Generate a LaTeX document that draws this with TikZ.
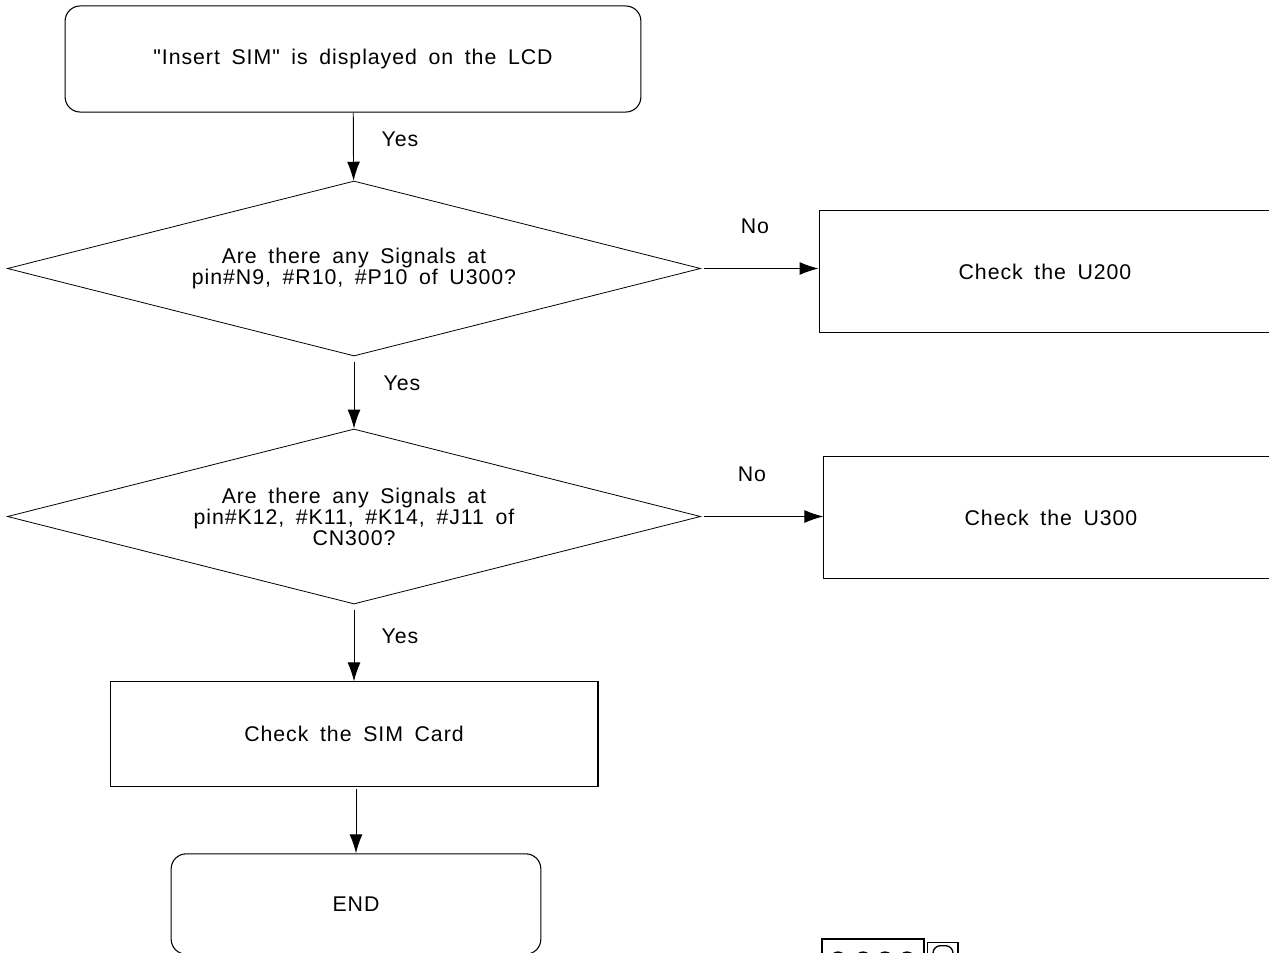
\documentclass[tikz,border=0pt]{standalone}
\usepackage{fontspec}
\newfontfamily\flowfont{Liberation Sans}[LetterSpace=4.4,WordSpace=1.7]
\usetikzlibrary{arrows.meta,shapes.geometric}
\tikzset{
  every node/.style={font=\flowfont\fontsize{16}{15.7}\selectfont},
  flow/.style={-{Latex[length=0.5cm,width=0.34cm]},line width=0.7pt},
  ask/.style={draw, diamond, aspect=3.95, inner sep=0pt, minimum width=18.3cm, minimum height=4.62cm, align=center},
  term/.style={draw, rectangle, rounded corners=0.4cm},
  pin/.style={draw, circle, line width=1pt, inner sep=0pt, minimum size=0.42cm},
}
\begin{document}
\begin{tikzpicture}[x=0.0264cm,y=-0.0264cm,line width=0.8pt]
\useasboundingbox (0,0) rectangle (1269,952);
\node[term, minimum width=15.2cm, minimum height=2.8cm] (start) at (353,59) {\symbol{34}Insert SIM\symbol{34} is displayed on the LCD};
\node[ask, line width=0.6pt] (sig1) at (354,268.5) {Are there any Signals at\\pin\#N9, \#R10, \#P10 of U300?};
\node[ask, line width=0.6pt] (sig2) at (354,516.5) {Are there any Signals at\\pin\#K12, \#K11, \#K14, \#J11 of\\CN300?};
\node[draw, rectangle, minimum width=11.93cm, minimum height=3.2cm] (u200) at (1045,271.5) {Check the U200};
\node[draw, rectangle, minimum width=11.99cm, minimum height=3.2cm] (u300) at (1051,517.5) {Check the U300};
\node[draw, rectangle, minimum width=12.88cm, minimum height=2.75cm] (sim) at (354,734) {Check the SIM Card};
\node[term, minimum width=9.76cm, minimum height=2.65cm] (finish) at (356,904) {END};

\draw[flow] (start) -- (sig1);
\draw[flow, shorten <=4pt] (sig1) -- (sig2);
\draw[flow, shorten <=4pt] (sig2) -- (sim);
\draw[flow, shorten <=2pt] (sim.south -| finish.north) -- (finish.north);
\draw[flow, shorten <=2pt] (sig1.east) -- (sig1.east -| u200.west);
\draw[flow, shorten <=2pt] (sig2.east) -- (sig2.east -| u300.west);

\node (yes1) at (400,139) {Yes};
\node (yes2) at (402,383) {Yes};
\node (yes3) at (400,636) {Yes};
\node (no1) at (755,226) {No};
\node (no2) at (752,474) {No};

\node[draw, line width=1.5pt, minimum width=2.7cm, minimum height=1cm, inner sep=0pt, anchor=north west] (jack) at (821,938) {};
\foreach \x/\name in {838/a,863/b,885/c,907/d}
  \node[pin] (pin\name) at (\x,960) {};
\node[draw, line width=1pt, minimum width=0.8cm, minimum height=1cm, inner sep=0pt, anchor=north west] (slot) at (927,942) {};
\node[draw, line width=1pt, rounded corners=0.2cm, minimum width=0.53cm, minimum height=0.8cm, inner sep=0pt, anchor=north] (hole) at (943,945) {};
\end{tikzpicture}
\end{document}
